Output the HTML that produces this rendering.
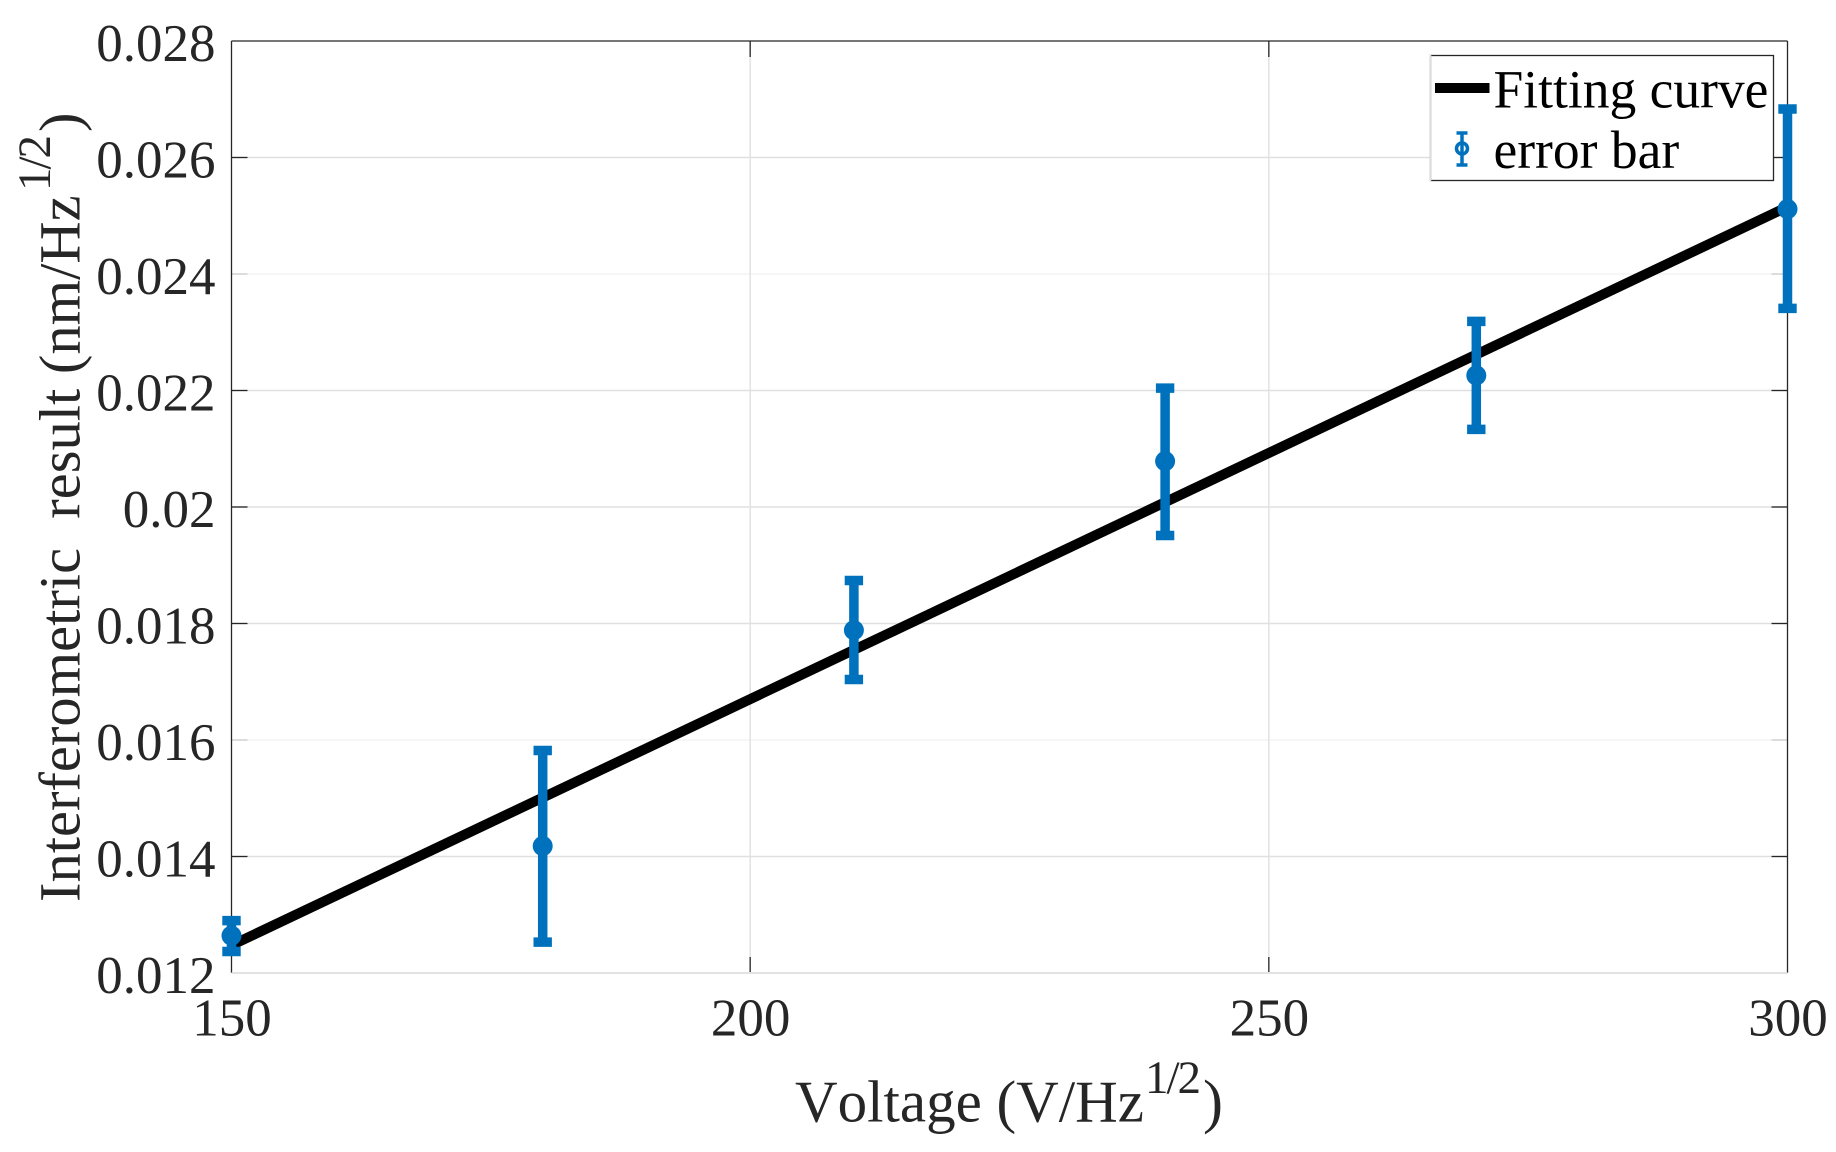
<!DOCTYPE html>
<html lang="en">
<head>
<meta charset="utf-8">
<title>Interferometric result vs voltage</title>
<style>
html,body{margin:0;padding:0;background:#fff;}
svg{display:block;font-family:"Liberation Serif","Times New Roman",serif;}
</style>
</head>
<body>
<svg id="chart" width="1836" height="1152" viewBox="0 0 1836 1152" xmlns="http://www.w3.org/2000/svg">
  <rect x="0" y="0" width="1836" height="1152" fill="#ffffff"/>
  <g id="grid"></g>
  <g id="axes"></g>
  <g id="fit"></g>
  <g id="errs"></g>
  <g id="labels" font-size="53" fill="#262626"></g>

  <text font-size="59" fill="#262626" y="1121.5" style="font-kerning:none"><tspan x="795">Voltage (V/Hz</tspan><tspan x="1145" y="1093" font-size="47" letter-spacing="-2">1/2</tspan><tspan x="1203" y="1121.5" font-size="60">)</tspan></text>

  <g transform="translate(79.5,902) rotate(-90)" font-size="58.5" fill="#262626" style="font-kerning:none">
    <text x="0" y="0" xml:space="preserve" style="white-space:pre">Interferometric  result (nm/Hz</text>
    <text x="711" y="-29.5" font-size="47" letter-spacing="-2">1/2</text>
    <text x="770" y="0">)</text>
  </g>

  <g>
    <rect x="1430.5" y="55.5" width="343" height="125" fill="#ffffff" stroke="#262626" stroke-width="1.3"/>
    <line x1="1430.5" y1="55" x2="1430.5" y2="181" stroke="#dedede" stroke-width="1.6"/>
    <line x1="1435" y1="88" x2="1489.5" y2="88" stroke="#000000" stroke-width="10"/>
    <text x="1493.5" y="107.5" font-size="53.5" fill="#000000">Fitting curve</text>
    <g stroke="#0072BD" stroke-width="3.5" fill="none">
      <line x1="1462" y1="132" x2="1462" y2="166"/>
      <line x1="1456.5" y1="133" x2="1467.5" y2="133"/>
      <line x1="1456.5" y1="165" x2="1467.5" y2="165"/>
      <circle cx="1462" cy="148.5" r="5.5"/>
    </g>
    <text x="1493.5" y="168" font-size="53.5" fill="#000000">error bar</text>
  </g>
</svg>

<script>
// ---- chart data ----
const xTicks = [150, 200, 250, 300];
const xTickLabels = ['150', '200', '250', '300'];
const yTicks = [0.012, 0.014, 0.016, 0.018, 0.02, 0.022, 0.024, 0.026, 0.028];
const yTickLabels = ['0.012', '0.014', '0.016', '0.018', '0.02', '0.022', '0.024', '0.026', '0.028'];
const voltages = [150, 180, 210, 240, 270, 300];
const results = [0.01264, 0.01418, 0.017885, 0.020787, 0.022259, 0.025115];
const upperBounds = [0.0129, 0.01582, 0.018739, 0.022041, 0.023187, 0.026832];
const lowerBounds = [0.01237, 0.01253, 0.017039, 0.019511, 0.021332, 0.02341];
const fitVoltages = [150, 300];
const fitResults = [0.012476, 0.025153];

// ---- axis functions ----
const plotLeft = 231.5, plotRight = 1787.5, plotTop = 41, plotBottom = 973;
const xMin = 150, xMax = 300, yMin = 0.012, yMax = 0.028;
function xScale(v) { return plotLeft + (v - xMin) / (xMax - xMin) * (plotRight - plotLeft); }
function yScale(v) { return plotBottom - (v - yMin) / (yMax - yMin) * (plotBottom - plotTop); }

const SVGNS = 'http://www.w3.org/2000/svg';
function make(parent, tag, attrs) {
  const el = document.createElementNS(SVGNS, tag);
  for (const k in attrs) el.setAttribute(k, attrs[k]);
  parent.appendChild(el);
  return el;
}

const grid = document.getElementById('grid');
const axes = document.getElementById('axes');
const fit = document.getElementById('fit');
const errs = document.getElementById('errs');
const labels = document.getElementById('labels');
const DARK = '#262626', GRID = '#e0e0e0', FAINT = '#f4f4f4', FAINT_TICK = '#dcdcdc';
const TICK = 16;

// horizontal grid lines, y ticks, y labels
yTicks.forEach(function (t, i) {
  const y = yScale(t);
  const faint = (i === 2 || i === 6);
  if (i > 0 && i < yTicks.length - 1) {
    const g = make(grid, 'line', { x1: plotLeft, x2: plotRight, y1: y, y2: y, stroke: faint ? FAINT : GRID, 'stroke-width': 1.4 });
    
    
    const tl = make(axes, 'line', { x1: plotLeft, x2: plotLeft + TICK, y1: y, y2: y, stroke: faint ? FAINT_TICK : DARK, 'stroke-width': faint ? 2 : 1.3 });
    
    
    const tr = make(axes, 'line', { x1: plotRight - TICK, x2: plotRight, y1: y, y2: y, stroke: faint ? FAINT_TICK : DARK, 'stroke-width': faint ? 2 : 1.3 });
    
    
  }
  const txt = make(labels, 'text', { x: 215.5, y: y + 20, 'text-anchor': 'end' });
  txt.textContent = yTickLabels[i];
  
  
});

// vertical grid lines, x ticks, x labels
xTicks.forEach(function (t, i) {
  const x = xScale(t);
  if (i > 0 && i < xTicks.length - 1) {
    const g = make(grid, 'line', { x1: x, x2: x, y1: plotTop, y2: plotBottom, stroke: GRID, 'stroke-width': 1.4 });
    
    
    const tb = make(axes, 'line', { x1: x, x2: x, y1: plotBottom - TICK, y2: plotBottom, stroke: DARK, 'stroke-width': 1.3 });
    
    
    const tt = make(axes, 'line', { x1: x, x2: x, y1: plotTop, y2: plotTop + TICK, stroke: DARK, 'stroke-width': 1.3 });
    
    
  }
  const txt = make(labels, 'text', { x: x + 0.5, y: 1035.5, 'text-anchor': 'middle' });
  txt.textContent = xTickLabels[i];
  
  
});

// axes frame
const topAxis = make(axes, 'line', { x1: plotLeft, x2: plotRight, y1: plotTop, y2: plotTop, stroke: DARK, 'stroke-width': 1.3 });


const rightAxis = make(axes, 'line', { x1: plotRight, x2: plotRight, y1: plotTop, y2: plotBottom, stroke: DARK, 'stroke-width': 1.3 });


const leftAxis = make(axes, 'line', { x1: plotLeft, x2: plotLeft, y1: plotTop, y2: plotBottom, stroke: DARK, 'stroke-width': 1.3 });


const bottomAxis = make(axes, 'line', { x1: plotLeft, x2: plotRight, y1: plotBottom, y2: plotBottom, stroke: '#e2e2e2', 'stroke-width': 2 });



// fitting curve
const fitLine = make(fit, 'polyline', {
  points: fitVoltages.map(function (v, i) { return xScale(v) + ',' + yScale(fitResults[i]); }).join(' '),
  fill: 'none', stroke: '#000000', 'stroke-width': 10
});



// error bars
const BLUE = '#0072BD';
voltages.forEach(function (v, i) {
  const x = xScale(v), yc = yScale(results[i]), yu = yScale(upperBounds[i]), yl = yScale(lowerBounds[i]);
  const g = make(errs, 'g', {});
  
  
  const stem = make(g, 'line', { x1: x, x2: x, y1: yu, y2: yl, stroke: BLUE, 'stroke-width': 9.5 });
  
  
  const capU = make(g, 'line', { x1: x - 9.2, x2: x + 9.2, y1: yu, y2: yu, stroke: BLUE, 'stroke-width': 9.5 });
  
  
  const capL = make(g, 'line', { x1: x - 9.2, x2: x + 9.2, y1: yl, y2: yl, stroke: BLUE, 'stroke-width': 9.5 });
  
  
  const dot = make(g, 'circle', { cx: x, cy: yc, r: 10, fill: BLUE });
  
  
});
</script>
</body>
</html>
